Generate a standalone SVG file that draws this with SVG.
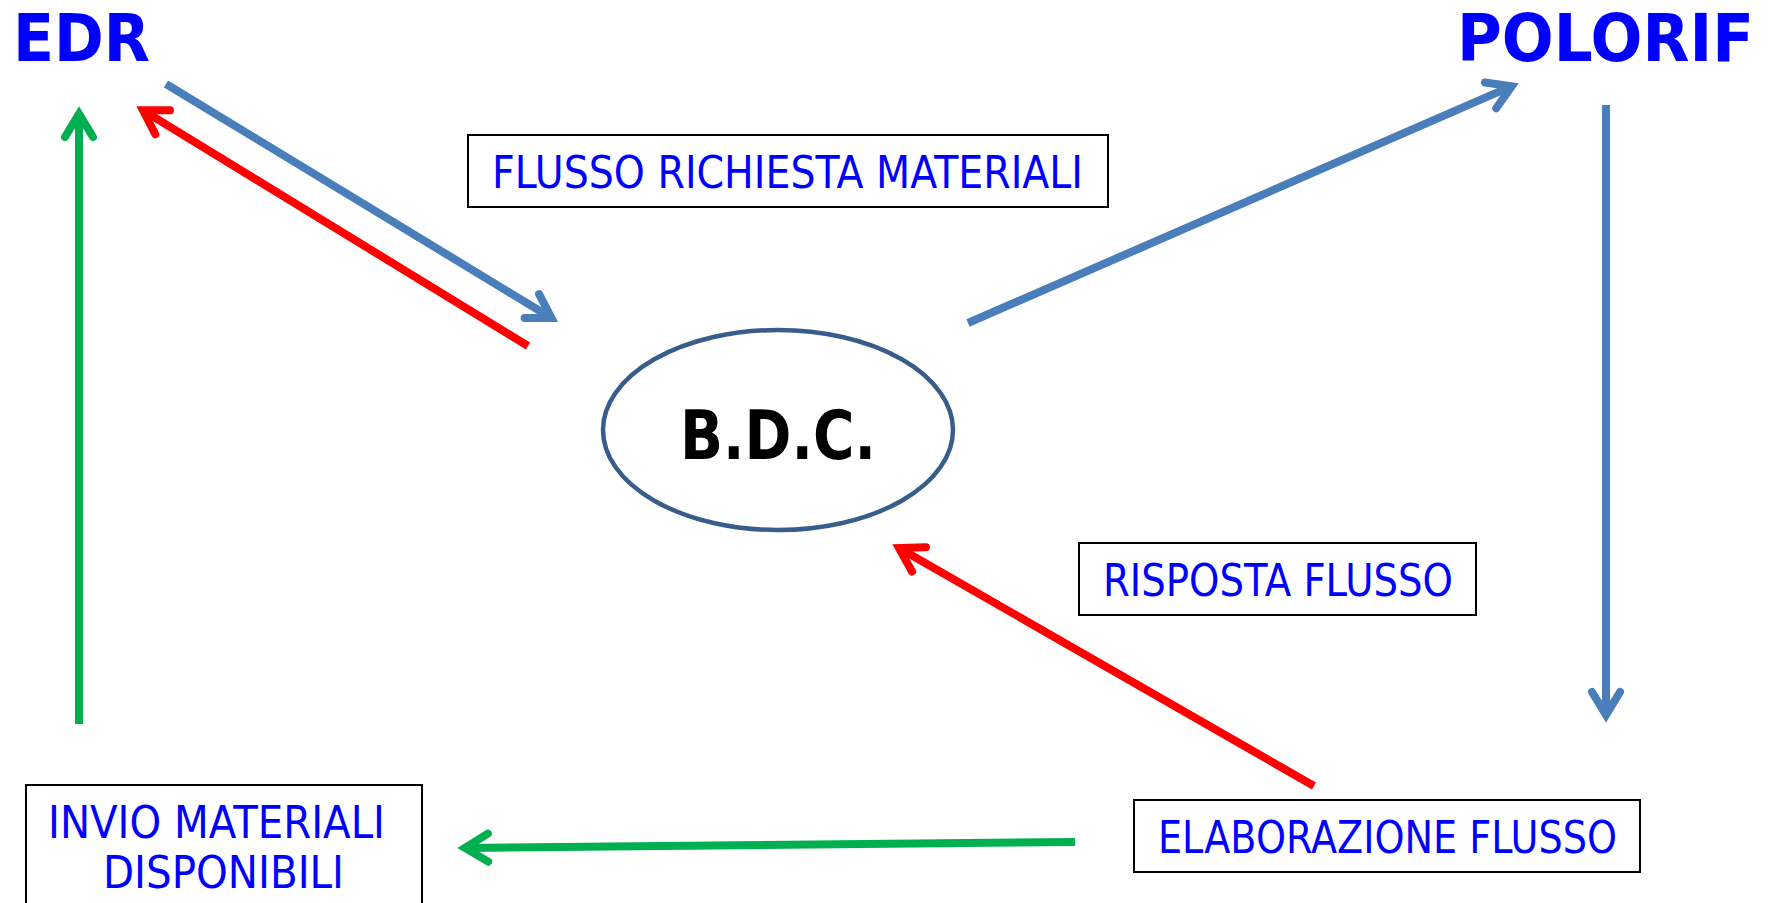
<svg xmlns="http://www.w3.org/2000/svg" width="1770" height="903" viewBox="0 0 1770 903">
<defs>
<style>
.title{font-family:"DejaVu Sans","Liberation Sans",sans-serif;font-weight:bold;font-size:66px;fill:#0000FF}
.lbl{font-family:"DejaVu Sans","Liberation Sans",sans-serif;font-size:44px;fill:#0000FF}
.box{fill:#FFFFFF;stroke:#000000;stroke-width:2}
.conn{fill:none;stroke-width:8;stroke-linecap:butt}
.blue{stroke:#4A7EBB}
.red{stroke:#FF0000}
.green{stroke:#00B050}
</style>
<marker id="ahBlue" markerUnits="userSpaceOnUse" orient="auto" refX="0" refY="0" markerWidth="60" markerHeight="60" viewBox="-30 -30 60 60" overflow="visible">
<path d="M -23 -14 L 0 0 L -23 14" fill="none" stroke="#4A7EBB" stroke-width="8" stroke-linecap="round" stroke-linejoin="miter"/>
</marker>
<marker id="ahRed" markerUnits="userSpaceOnUse" orient="auto" refX="0" refY="0" markerWidth="60" markerHeight="60" viewBox="-30 -30 60 60" overflow="visible">
<path d="M -23 -14 L 0 0 L -23 14" fill="none" stroke="#FF0000" stroke-width="8" stroke-linecap="round" stroke-linejoin="miter"/>
</marker>
<marker id="ahGreen" markerUnits="userSpaceOnUse" orient="auto" refX="0" refY="0" markerWidth="60" markerHeight="60" viewBox="-30 -30 60 60" overflow="visible">
<path d="M -23 -14 L 0 0 L -23 14" fill="none" stroke="#00B050" stroke-width="8" stroke-linecap="round" stroke-linejoin="miter"/>
</marker>
</defs>
<rect x="0" y="0" width="1770" height="903" fill="#FFFFFF"/>

<g id="connectors">
<line class="conn green" x1="79" y1="724" x2="79" y2="114" marker-end="url(#ahGreen)"/>
<line class="conn blue" x1="166" y1="84" x2="551.5" y2="318" marker-end="url(#ahBlue)"/>
<line class="conn red" x1="528" y1="346" x2="143" y2="110.3" marker-end="url(#ahRed)"/>
<line class="conn blue" x1="968" y1="323" x2="1511.7" y2="86.2" marker-end="url(#ahBlue)"/>
<line class="conn blue" x1="1606" y1="105" x2="1606" y2="715" marker-end="url(#ahBlue)"/>
<line class="conn red" x1="1314" y1="786" x2="899" y2="548" marker-end="url(#ahRed)"/>
<line class="conn green" x1="1075" y1="842" x2="465" y2="847.9" marker-end="url(#ahGreen)"/>
</g>

<g id="edr">
<text class="title" x="13" y="61" textLength="137" lengthAdjust="spacingAndGlyphs">EDR</text>
</g>

<g id="polorif">
<text class="title" x="1457" y="61" textLength="297" lengthAdjust="spacingAndGlyphs">POLORIF</text>
</g>

<g id="bdc">
<ellipse cx="778" cy="430" rx="175" ry="100" fill="#FFFFFF" stroke="#385D8A" stroke-width="4.5"/>
<text x="680" y="459" font-family="DejaVu Sans, Liberation Sans, sans-serif" font-weight="bold" font-size="67" fill="#000000" textLength="196" lengthAdjust="spacingAndGlyphs">B.D.C.</text>
</g>

<g id="flusso-richiesta">
<rect class="box" x="468" y="135" width="640" height="72"/>
<text class="lbl" x="492" y="188" textLength="591" lengthAdjust="spacingAndGlyphs">FLUSSO RICHIESTA MATERIALI</text>
</g>

<g id="risposta-flusso">
<rect class="box" x="1079" y="543" width="397" height="72"/>
<text class="lbl" x="1103" y="596" textLength="350" lengthAdjust="spacingAndGlyphs">RISPOSTA FLUSSO</text>
</g>

<g id="elaborazione-flusso">
<rect class="box" x="1134" y="800" width="506" height="72"/>
<text class="lbl" x="1158" y="853" textLength="459" lengthAdjust="spacingAndGlyphs">ELABORAZIONE FLUSSO</text>
</g>

<g id="invio-materiali">
<rect class="box" x="26" y="785" width="396" height="140"/>
<text class="lbl" x="48" y="838" textLength="337" lengthAdjust="spacingAndGlyphs">INVIO MATERIALI</text>
<text class="lbl" x="103" y="888" textLength="241" lengthAdjust="spacingAndGlyphs">DISPONIBILI</text>
</g>
</svg>
